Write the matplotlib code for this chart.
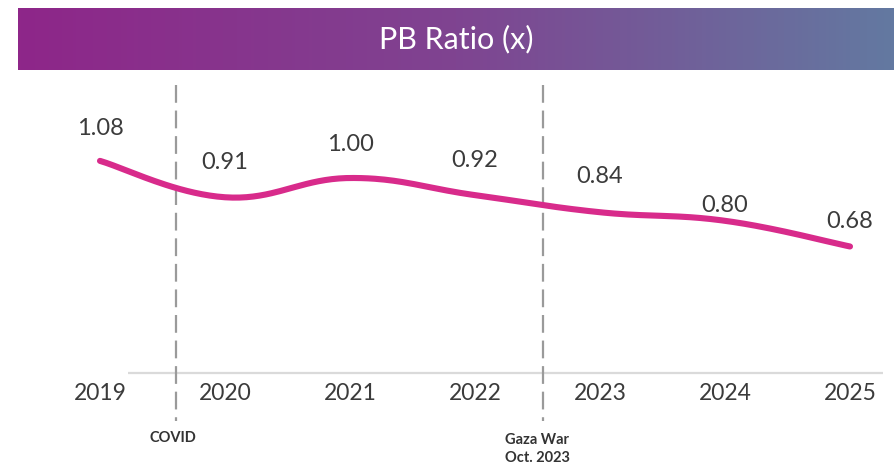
import numpy as np
import matplotlib
matplotlib.use("Agg")
import matplotlib.pyplot as plt
from matplotlib.colors import LinearSegmentedColormap

# ---- data ----
years = ["2019", "2020", "2021", "2022", "2023", "2024", "2025"]
pb_ratio = [1.08, 0.91, 1.00, 0.92, 0.84, 0.80, 0.68]
value_labels = ["1.08", "0.91", "1.00", "0.92", "0.84", "0.80", "0.68"]
events = ["COVID", "Gaza War\nOct. 2023"]
event_pos = [0.61, 3.545]          # position between years (index units)
title = "PB Ratio (x)"

# label offsets above line (points)
label_offsets = [23, 25, 24, 25, 26, 11, 18]

W, H = 894, 467
fig = plt.figure(figsize=(W / 100, H / 100), dpi=100)
fig.patch.set_facecolor("white")
plt.rcParams["font.family"] = ["Lato", "DejaVu Sans"]

ax = fig.add_axes([0, 0, 1, 1])
ax.set_xlim(-0.8, 6.352)
ax.set_ylim(-0.3505, 1.8318)
ax.axis("off")

def fy(px):
    return 1 - px / H

def fx(px):
    return px / W

# ---- title banner with gradient ----
cmap = LinearSegmentedColormap.from_list("banner", ["#8E2689", "#7F4491", "#6379A1"])
grad = np.linspace(0, 1, 256).reshape(1, -1)
bax = fig.add_axes([fx(18), fy(70), fx(894) - fx(18), fy(8) - fy(70)])
bax.imshow(grad, aspect="auto", cmap=cmap, extent=[0, 1, 0, 1])
bax.axis("off")
bax.text(0.5, 0.5, title, color="white", fontsize=22, ha="center", va="center",
         transform=bax.transAxes)

# ---- baseline ----
ax.plot([fx(128), fx(883)], [fy(373), fy(373)], color="#DADADA", lw=1.6,
        transform=fig.transFigure, solid_capstyle="butt")

# ---- smooth curve (Catmull-Rom rendering of the data points) ----
x = np.arange(len(pb_ratio), dtype=float)
y = np.array(pb_ratio)
xs, ys = [], []
n = len(x)
for i in range(n - 1):
    p0 = np.array([x[max(i - 1, 0)], y[max(i - 1, 0)]])
    p1 = np.array([x[i], y[i]])
    p2 = np.array([x[i + 1], y[i + 1]])
    p3 = np.array([x[min(i + 2, n - 1)], y[min(i + 2, n - 1)]])
    t = 0.4
    c1 = p1 + (p2 - p0) * t / 2
    c2 = p2 - (p3 - p1) * t / 2
    s = np.linspace(0, 1, 40)[:, None]
    pts = ((1 - s) ** 3) * p1 + 3 * ((1 - s) ** 2) * s * c1 + 3 * (1 - s) * s ** 2 * c2 + s ** 3 * p2
    xs.extend(pts[:, 0]); ys.extend(pts[:, 1])
ax.plot(xs, ys, color="#D82B8B", lw=4.4, solid_capstyle="round", zorder=3)

# ---- value labels ----
for i, (v, lab) in enumerate(zip(pb_ratio, value_labels)):
    ax.annotate(lab, (i, v), xytext=(0, label_offsets[i]), textcoords="offset points",
                ha="center", va="center", fontsize=17, color="#3B3B3B")

# ---- year labels ----
trans = matplotlib.transforms.blended_transform_factory(ax.transData, fig.transFigure)
for i, yr in enumerate(years):
    ax.text(i, fy(394), yr, transform=trans, ha="center", va="center",
            fontsize=16.5, color="#3B3B3B")

# ---- event lines ----
for pos in event_pos:
    ax.plot([pos, pos], [fy(85), fy(421)], transform=trans, color="#9A9A9A",
            lw=1.6, dashes=(8, 3.5))
ax.text(fx(150), fy(438), events[0], transform=fig.transFigure, ha="left", va="center",
        fontsize=10.5, fontweight="bold", color="#333333")
ax.text(fx(505), fy(449), events[1], transform=fig.transFigure, ha="left", va="center",
        fontsize=10.5, fontweight="bold", color="#333333", linespacing=1.35)

fig.savefig("out.png", dpi=100, facecolor="white")
